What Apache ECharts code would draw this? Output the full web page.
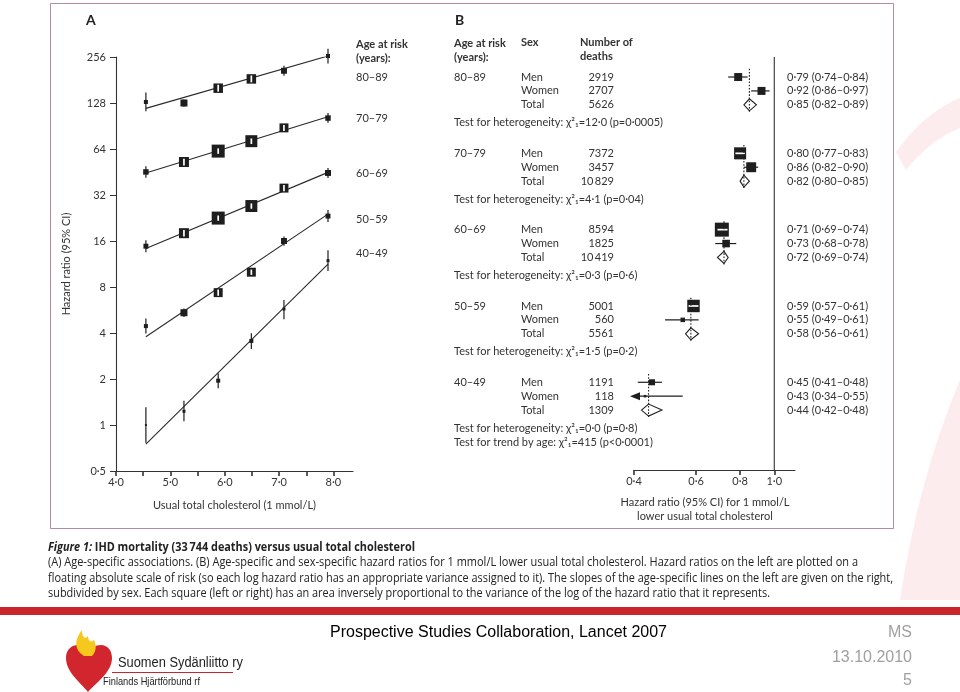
<!DOCTYPE html>
<html><head><meta charset="utf-8">
<script src="https://cdn.jsdelivr.net/npm/echarts@6/dist/echarts.min.js"></script>
<style>html,body{margin:0;padding:0;background:#fff}#c{width:960px;height:692px}</style>
</head><body><div id="c"></div>
<script>
// ================= DATA: Panel A =================
const ageGroups = ['80–89', '70–79', '60–69', '50–59', '40–49'];
const cholesterolX = [4.55, 5.25, 5.88, 6.49, 7.09, 7.90];
const fitX = [4.55, 7.90];
const hr80 = [130, 128, 160, 184, 208, 260];
const lo80 = [113, 121, 151, 174, 193, 232];
const hi80 = [150, 135, 169, 194, 224, 290];
const box80 = [0.31, 0.54, 0.73, 0.73, 0.46, 0.31];
const fit80 = [118, 260];
const hr70 = [45.3, 52.6, 62, 72, 88, 102];
const lo70 = [41.5, 50, 59.5, 69, 84, 95];
const hi70 = [49.4, 55.3, 64.6, 75, 92, 110];
const box70 = [0.42, 0.77, 1.0, 0.92, 0.69, 0.42];
const fit70 = [44.6, 104];
const hr60 = [14.8, 18, 22.6, 27.1, 35.5, 44.6];
const lo60 = [13.5, 17.1, 21.7, 26, 33.8, 41.4];
const hi60 = [16.2, 18.9, 23.5, 28.2, 37.2, 48];
const box60 = [0.38, 0.77, 1.0, 0.92, 0.69, 0.46];
const fit60 = [14.3, 45];
const hr50 = [4.44, 5.43, 7.35, 10.0, 16.0, 23.3];
const lo50 = [3.97, 5.1, 7.0, 9.6, 14.9, 21.3];
const hi50 = [4.97, 5.78, 7.7, 10.4, 17.1, 25.5];
const box50 = [0.31, 0.54, 0.69, 0.69, 0.46, 0.38];
const fit50 = [3.78, 24];
const hr40 = [1.0, 1.23, 1.95, 3.55, 5.74, 11.9];
const lo40 = [0.766, 1.06, 1.74, 3.14, 4.93, 10.2];
const hi40 = [1.306, 1.44, 2.18, 3.98, 6.57, 13.9];
const box40 = [0.15, 0.23, 0.31, 0.31, 0.23, 0.23];
const fit40 = [0.75, 11.3];
const yTicksA = [0.5, 1, 2, 4, 8, 16, 32, 64, 128, 256];
const xTicksA = [4, 5, 6, 7, 8];
const xMinorA = [4.5, 5.5, 6.5, 7.5];

// ================= DATA: Panel B =================
const menDeaths = [2919, 7372, 8594, 5001, 1191];
const womenDeaths = [2707, 3457, 1825, 560, 118];
const totalDeaths = [5626, 10829, 10419, 5561, 1309];
const menHR = [0.79, 0.80, 0.71, 0.59, 0.45];
const menLo = [0.74, 0.77, 0.69, 0.57, 0.41];
const menHi = [0.84, 0.83, 0.74, 0.61, 0.48];
const menBox = [0.57, 0.86, 1.0, 0.89, 0.43];
const womenHR = [0.92, 0.86, 0.73, 0.55, 0.43];
const womenLo = [0.86, 0.82, 0.68, 0.49, 0.34];
const womenHi = [0.97, 0.90, 0.78, 0.61, 0.55];
const womenBox = [0.57, 0.71, 0.54, 0.32, 0.18];
const totalHR = [0.85, 0.82, 0.72, 0.58, 0.44];
const totalLo = [0.82, 0.80, 0.69, 0.56, 0.42];
const totalHi = [0.89, 0.85, 0.74, 0.61, 0.48];
const heterogeneity = ['χ²₁=12·0 (p=0·0005)', 'χ²₁=4·1 (p=0·04)', 'χ²₁=0·3 (p=0·6)', 'χ²₁=1·5 (p=0·2)', 'χ²₁=0·0 (p=0·8)'];
const trendTest = 'χ²₁=415 (p<0·0001)';
const xTicksB = [0.4, 0.6, 0.8, 1.0];

// ================= STYLE / LAYOUT =================
const FONT = 'Lato, "Open Sans", sans-serif';
const INK = '#1e1e1e';
const TXT = '#333333';
const BOX_A = 13, BOX_B = 14;
const LN_MIN = Math.log(0.4), LN_MAX = Math.log(1.145);
const R0 = -1.44, R1 = 28.27, STEP = 5.49;
const COL = {age: 454, sex: 521, num: 614, ci: 787};

const fmt1 = v => v.toFixed(1).replace('.', '·');
const fmt2 = v => v.toFixed(2).replace('.', '·');
const fmtTick = v => String(Math.round(v * 100) / 100).replace('.', '·');
const fmtN = n => n >= 10000 ? String(n).replace(/(\d+)(\d{3})$/, '$1\u2009$2') : String(n);
const ciText = (v, l, h) => fmt2(v) + ' (' + fmt2(l) + '–' + fmt2(h) + ')';

// ================= Panel A series =================
const groupsA = [
  [hr80, lo80, hi80, box80, fit80],
  [hr70, lo70, hi70, box70, fit70],
  [hr60, lo60, hi60, box60, fit60],
  [hr50, lo50, hi50, box50, fit50],
  [hr40, lo40, hi40, box40, fit40]
];
function renderA(params, api) {
  const x = api.value(0);
  const c = api.coord([x, api.value(1)]);
  const cl = api.coord([x, api.value(2)]);
  const ch = api.coord([x, api.value(3)]);
  const s = api.value(4) * BOX_A;
  const kids = [
    {type: 'line', shape: {x1: c[0], y1: cl[1], x2: c[0], y2: ch[1]}, style: {stroke: INK, lineWidth: 1.2}},
    {type: 'rect', shape: {x: c[0] - s / 2, y: c[1] - s / 2, width: s, height: s}, style: {fill: INK}}
  ];
  if (s > 8) {
    const top = Math.max(ch[1], c[1] - s / 2 + 1.3), bot = Math.min(cl[1], c[1] + s / 2 - 1.3);
    kids.push({type: 'line', shape: {x1: c[0], y1: top, x2: c[0], y2: bot}, style: {stroke: '#fff', lineWidth: 1.7}});
  }
  return {type: 'group', children: kids};
}
const series = [];
groupsA.forEach((g, gi) => {
  const [hr, lo, hi, box, fit] = g;
  series.push({
    type: 'line', name: ageGroups[gi] + ' fit', xAxisIndex: 0, yAxisIndex: 0, symbol: 'none', silent: true,
    lineStyle: {color: '#2a2a2a', width: 1.1}, z: 2,
    data: fitX.map((x, i) => [x, Math.log2(fit[i])])
  });
  series.push({
    type: 'custom', name: ageGroups[gi], xAxisIndex: 0, yAxisIndex: 0, renderItem: renderA, z: 3,
    data: cholesterolX.map((x, i) => [x, Math.log2(hr[i]), Math.log2(lo[i]), Math.log2(hi[i]), box[i]])
  });
});

// ================= Panel B series =================
const forestData = [];
const dottedData = [];
const tableRows = [];
ageGroups.forEach((age, g) => {
  const r = g * STEP;
  forestData.push([Math.log(menHR[g]), Math.log(menLo[g]), Math.log(menHi[g]), r, 0, menBox[g]]);
  forestData.push([Math.log(womenHR[g]), Math.log(womenLo[g]), Math.log(womenHi[g]), r + 1, 0, womenBox[g]]);
  forestData.push([Math.log(totalHR[g]), Math.log(totalLo[g]), Math.log(totalHi[g]), r + 2, 1, 0]);
  dottedData.push([Math.log(totalHR[g]), r - 0.6, r + 2.5]);
  tableRows.push({r: r, cells: [[COL.age, 'left', age], [COL.sex, 'left', 'Men'], [COL.num, 'right', fmtN(menDeaths[g])], [COL.ci, 'left', ciText(menHR[g], menLo[g], menHi[g])]]});
  tableRows.push({r: r + 1, cells: [[COL.sex, 'left', 'Women'], [COL.num, 'right', fmtN(womenDeaths[g])], [COL.ci, 'left', ciText(womenHR[g], womenLo[g], womenHi[g])]]});
  tableRows.push({r: r + 2, cells: [[COL.sex, 'left', 'Total'], [COL.num, 'right', fmtN(totalDeaths[g])], [COL.ci, 'left', ciText(totalHR[g], totalLo[g], totalHi[g])]]});
  tableRows.push({r: r + 3.3, cells: [[COL.age, 'left', 'Test for heterogeneity: ' + heterogeneity[g]]]});
  if (g === ageGroups.length - 1) tableRows.push({r: r + 4.3, cells: [[COL.age, 'left', 'Test for trend by age: ' + trendTest]]});
});

function renderB(params, api) {
  const v = api.value(0), lo = api.value(1), hi = api.value(2), row = api.value(3), kind = api.value(4), w = api.value(5);
  const c = api.coord([v, row]);
  const xl = api.coord([Math.max(lo, LN_MIN), row])[0];
  const xh = api.coord([hi, row])[0];
  const y = c[1];
  if (kind === 1) {
    return {type: 'polygon', shape: {points: [[xl, y], [c[0], y - 6], [xh, y], [c[0], y + 6]]},
      style: {fill: '#fff', stroke: INK, lineWidth: 1.1}};
  }
  const s = w * BOX_B;
  const kids = [{type: 'line', shape: {x1: xl, y1: y, x2: xh, y2: y}, style: {stroke: INK, lineWidth: 1.2}}];
  if (lo < LN_MIN) {
    kids.push({type: 'polygon', shape: {points: [[xl - 4, y], [xl + 6, y - 4], [xl + 6, y + 4]]}, style: {fill: INK}});
  }
  kids.push({type: 'rect', shape: {x: c[0] - s / 2, y: y - s / 2, width: s, height: s}, style: {fill: INK}});
  if (s > 11) {
    const a = Math.max(xl, c[0] - s / 2 + 1.3), b = Math.min(xh, c[0] + s / 2 - 1.3);
    kids.push({type: 'line', shape: {x1: a, y1: y, x2: b, y2: y}, style: {stroke: '#fff', lineWidth: 1.7}});
  }
  return {type: 'group', children: kids};
}
function renderDotted(params, api) {
  const a = api.coord([api.value(0), api.value(1)]);
  const b = api.coord([api.value(0), api.value(2)]);
  return {type: 'line', shape: {x1: a[0], y1: a[1], x2: b[0], y2: b[1]}, style: {stroke: INK, lineWidth: 1.1, lineDash: [1.6, 1.6]}};
}
function renderTable(params, api) {
  const row = tableRows[params.dataIndex];
  const y = api.coord([0, api.value(1)])[1];
  return {type: 'group', children: row.cells.map(cell => ({
    type: 'text', style: {x: cell[0], y: y, text: cell[2], align: cell[1], verticalAlign: 'middle',
      fill: TXT, fontSize: 11, fontFamily: FONT}
  }))};
}
series.push({type: 'line', name: 'null line', xAxisIndex: 1, yAxisIndex: 1, symbol: 'none', silent: true,
  lineStyle: {color: '#333', width: 1.1}, data: [[0, R0], [0, R1]], z: 1});
series.push({type: 'custom', name: 'forest', xAxisIndex: 1, yAxisIndex: 1, renderItem: renderB, data: forestData, z: 3, clip: false});
series.push({type: 'custom', name: 'totals', xAxisIndex: 1, yAxisIndex: 1, renderItem: renderDotted, data: dottedData, z: 4, clip: false});
series.push({type: 'custom', name: 'table', xAxisIndex: 1, yAxisIndex: 1, renderItem: renderTable, clip: false, z: 5,
  data: tableRows.map(t => [0, t.r])});

// decorative slide paths (watermark + logo) drawn with a coordinate-free custom series
const decorPaths = [
  {d: 'M 896 152 Q 925 112 960 98 L 960 128 Q 930 140 906 170 Z', fill: '#fdeced'},
  {d: 'M 900 600 Q 918 480 960 380 L 960 600 Z', fill: '#fdeced'},
  {d: 'M 88 692 C 80 682 66 672 66 658 C 66 649 72 645 78 645 C 83 645 87 648 89 652 C 91 648 95 645 101 645 C 107 645 112 650 112 658 C 112 672 97 682 88 692 Z', fill: '#d2262e'},
  {d: 'M 84 656 C 74 650 74 640 82 630 C 82 637 85 640 88 636 C 88 641 91 643 94 640 C 97 646 96 652 92 656 Z', fill: '#f6c71c'}
];
series.push({type: 'custom', name: 'decor', coordinateSystem: 'none', silent: true, z: 0, data: [[0]],
  renderItem: () => ({type: 'group', children: decorPaths.map(p => ({type: 'path', shape: {pathData: p.d}, style: {fill: p.fill}}))})});

// ================= Text fitting helper =================
const mctx = document.createElement('canvas').getContext('2d');
function textW(text, size, family, weight, style) {
  mctx.font = (style || 'normal') + ' ' + (weight || 'normal') + ' ' + size + 'px ' + family;
  return mctx.measureText(text).width;
}
const CAP_FONT = '"Open Sans", sans-serif';
const CAP_SIZE = 12.5;
function fitted(text, x, y, target, opts) {
  opts = opts || {};
  const w = textW(text, opts.size || CAP_SIZE, opts.family || CAP_FONT, opts.weight, opts.style);
  const sc = opts.scale || target / w;
  return {type: 'text', x: x, y: y, scaleX: sc, style: {text: text, fontSize: opts.size || CAP_SIZE, fontFamily: opts.family || CAP_FONT,
    fontWeight: opts.weight || 'normal', fontStyle: opts.style || 'normal', fill: opts.fill || '#222', align: 'left', verticalAlign: 'middle'}};
}
const graphics = [];
graphics.push({type: 'rect', shape: {x: 50.5, y: 3.5, width: 843, height: 525}, style: {fill: 'none', stroke: '#b48aa2', lineWidth: 1}});
const T = (text, x, y, o) => ({type: 'text', style: Object.assign({x: x, y: y, text: text, fill: TXT, fontSize: 11, fontFamily: FONT, align: 'left', verticalAlign: 'middle'}, o || {})});
graphics.push(T('A', 86, 20, {fontSize: 14, fontWeight: 'bold', fill: '#222'}));
graphics.push(T('B', 455, 20, {fontSize: 14, fontWeight: 'bold', fill: '#222'}));
graphics.push(T('Age at risk', 356, 44, {fontWeight: 'bold'}));
graphics.push(T('(years):', 356, 58, {fontWeight: 'bold'}));
const labelYA = [77, 118, 173, 219, 253];
ageGroups.forEach((a, i) => graphics.push(T(a, 356, labelYA[i])));
graphics.push(T('Age at risk', 454, 43, {fontWeight: 'bold'}));
graphics.push(T('(years):', 454, 57, {fontWeight: 'bold'}));
graphics.push(T('Sex', 521, 42, {fontWeight: 'bold'}));
graphics.push(T('Number of', 580, 42, {fontWeight: 'bold'}));
graphics.push(T('deaths', 580, 56, {fontWeight: 'bold'}));
graphics.push(T('Hazard ratio (95% CI) for 1 mmol/L', 705, 502, {align: 'center'}));
graphics.push(T('lower usual total cholesterol', 705, 516, {align: 'center'}));
// caption
const titleRest = ' IHD mortality (33\u2009744 deaths) versus usual total cholesterol';
const wA = textW('Figure 1:', CAP_SIZE, CAP_FONT, 'bold', 'italic');
const wB = textW(titleRest, CAP_SIZE, CAP_FONT, 'bold');
const tsc = (415 - 48) / (wA + wB);
graphics.push(fitted('Figure 1:', 48, 547, 0, {weight: 'bold', style: 'italic', scale: tsc}));
graphics.push(fitted(titleRest, 48 + wA * tsc, 547, 0, {weight: 'bold', scale: tsc}));
graphics.push(fitted('(A) Age-specific associations. (B) Age-specific and sex-specific hazard ratios for 1 mmol/L lower usual total cholesterol. Hazard ratios on the left are plotted on a', 48, 562, 858 - 48));
graphics.push(fitted('floating absolute scale of risk (so each log hazard ratio has an appropriate variance assigned to it). The slopes of the age-specific lines on the left are given on the right,', 48, 578, 893 - 48));
graphics.push(fitted('subdivided by sex. Each square (left or right) has an area inversely proportional to the variance of the log of the hazard ratio that it represents.', 48, 593, 770 - 48));
// footer
graphics.push({type: 'rect', shape: {x: 0, y: 607, width: 960, height: 8}, style: {fill: '#c8252c'}});
const FF = '"Liberation Sans", Arial, sans-serif';
graphics.push(fitted('Prospective Studies Collaboration, Lancet 2007', 330, 633, 667 - 330, {size: 16, family: FF, fill: '#000'}));
graphics.push(T('MS', 912, 633, {fontSize: 16, fontFamily: FF, fill: '#a0a0a0', align: 'right'}));
graphics.push(T('13.10.2010', 912, 658, {fontSize: 16, fontFamily: FF, fill: '#a0a0a0', align: 'right'}));
graphics.push(T('5', 912, 681, {fontSize: 16, fontFamily: FF, fill: '#a0a0a0', align: 'right'}));
graphics.push({type: 'line', shape: {x1: 89, y1: 655, x2: 88.5, y2: 668}, style: {stroke: '#fff', lineWidth: 1.5}});
graphics.push(fitted('Suomen Sydänliitto ry', 118, 663, 243 - 118, {size: 14, family: FF, fill: '#222'}));
graphics.push({type: 'line', shape: {x1: 112, y1: 672.5, x2: 233, y2: 672.5}, style: {stroke: '#c8252c', lineWidth: 1}});
graphics.push(fitted('Finlands Hjärtförbund rf', 103, 682, 200 - 103, {size: 11, family: FF, fill: '#222'}));

// ================= Chart =================
const axisText = {color: TXT, fontSize: 11, fontFamily: FONT};
const chart = echarts.init(document.getElementById('c'));
chart.setOption({
  animation: false,
  backgroundColor: '#fff',
  grid: [
    {left: 116, top: 57, width: 237, height: 414},
    {left: 634, top: 57, width: 161, height: 413}
  ],
  xAxis: [
    {type: 'value', gridIndex: 0, min: 4, max: 8.36,
      name: 'Usual total cholesterol (1 mmol/L)', nameLocation: 'middle', nameGap: 29, nameTextStyle: axisText,
      axisLine: {onZero: false, lineStyle: {color: '#333', width: 1.1}},
      axisTick: {show: true, customValues: xTicksA.concat(xMinorA), length: 5, lineStyle: {color: '#333', width: 1.6}},
      axisLabel: Object.assign({customValues: xTicksA, formatter: v => fmt1(v), margin: 6}, axisText),
      splitLine: {show: false}},
    {type: 'value', gridIndex: 1, min: LN_MIN, max: LN_MAX,
      axisLine: {onZero: false, lineStyle: {color: '#333', width: 1.1}},
      axisTick: {show: true, customValues: xTicksB.map(Math.log), length: 5, lineStyle: {color: '#333', width: 1.6}},
      axisLabel: Object.assign({customValues: xTicksB.map(Math.log), formatter: v => fmt1(Math.exp(v)), margin: 6}, axisText),
      splitLine: {show: false}}
  ],
  yAxis: [
    {type: 'value', gridIndex: 0, min: Math.log2(yTicksA[0]), max: Math.log2(yTicksA[yTicksA.length - 1]), interval: 1,
      name: 'Hazard ratio (95% CI)', nameLocation: 'middle', nameGap: 44, nameTextStyle: axisText,
      axisLine: {show: true, onZero: false, lineStyle: {color: '#333', width: 1.1}},
      axisTick: {show: true, length: 6, lineStyle: {color: '#333'}},
      axisLabel: Object.assign({formatter: v => fmtTick(Math.pow(2, v)), margin: 10}, axisText),
      splitLine: {show: false}},
    {type: 'value', gridIndex: 1, min: R0, max: R1, inverse: true, show: false, splitLine: {show: false}}
  ],
  series: series,
  graphic: graphics
});
</script></body></html>
